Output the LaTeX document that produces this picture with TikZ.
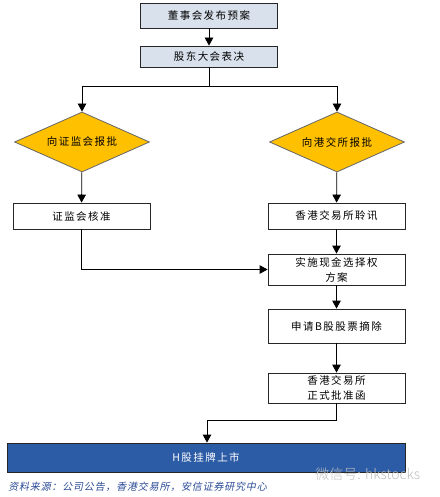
\documentclass[tikz,border=0pt]{standalone}
\usepackage{fontspec}
\usetikzlibrary{shapes,arrows.meta}
\newfontfamily\cjk[LetterSpace=14]{Noto Sans CJK SC}
\newfontfamily\cjkplain{Noto Sans CJK SC Light}
\newfontfamily\cjksrc[FakeSlant=0.2,LetterSpace=8]{Noto Sans CJK SC}
\definecolor{boxblue}{HTML}{D9E1EC}
\definecolor{stepgold}{HTML}{FFC000}
\definecolor{barblue}{HTML}{2D5CA6}
\definecolor{srcblue}{HTML}{2A4A96}
\tikzset{
	arr/.style={-{Triangle[length=8pt,width=8.5pt]}},
	procbox/.style={draw=black!85, rectangle, minimum width=137pt, align=center, inner sep=0pt, font=\cjk\fontsize{10.5}{15}\selectfont},
	decbox/.style={draw=black!60, diamond, fill=stepgold, shape aspect=2.25, minimum width=135pt, minimum height=60pt, inner sep=0pt, font=\cjk\fontsize{10.5}{15}\selectfont}
}
\begin{document}
\begin{tikzpicture}[x=1pt, y=-1pt, line width=0.8pt]
		\useasboundingbox (0,0) rectangle (439,497);
		\node[procbox, fill=boxblue, minimum height=25pt] (plan) at (209,15.5) {董事会发布预案};
		\node[procbox, fill=boxblue, minimum height=21pt] (vote) at (209,56.5) {股东大会表决};
		\coordinate (split) at (209,86);
		\node[decbox] (csrc) at (82,142) {向证监会报批};
		\node[decbox] (hkex) at (337,142) {向港交所报批};
		\node[procbox, minimum height=26pt] (approve) at (81.5,216) {证监会核准};
		\node[procbox, minimum height=26pt] (hearing) at (336.5,216) {香港交易所聆讯};
		\node[procbox, minimum height=31pt] (cash) at (336.5,269.5) {实施现金选择权\\方案};
		\node[procbox, minimum height=34pt] (delist) at (336.5,326) {申请B股股票摘除};
		\node[procbox, minimum height=30pt] (letter) at (336.5,388) {香港交易所\\正式批准函};
		\coordinate (bend) at (207,420);
		\node[draw=black!85, fill=barblue, minimum width=398pt, minimum height=29pt, inner sep=0pt, text=white, font=\cjk\fontsize{10.5}{15}\selectfont] (listing) at (206,457.5) {H股挂牌上市};
		\draw[arr] (plan) -- (vote);
		\draw (vote) -- (split);
		\draw[arr] (split) -| (csrc);
		\draw[arr] (split) -| (hkex);
		\draw[arr] (csrc) -- (approve);
		\draw[arr] (hkex) -- (hearing);
		\draw[arr] (approve) |- (cash.west);
		\draw[arr] (hearing) -- (cash);
		\draw[arr] (cash) -- (delist);
		\draw[arr] (delist) -- (letter);
		\draw[arr] (letter) |- (bend) -- (bend |- listing.north);
		\node[anchor=west, inner sep=0pt, text=black!25, font=\cjkplain\fontsize{14}{16}\selectfont] (mark) at (315,474) {微信号: hkstocks};
		\node[anchor=west, inner sep=0pt, text=srcblue, font=\cjksrc\fontsize{10}{12}\selectfont] (source) at (8,487) {资料来源：公司公告，香港交易所，安信证券研究中心};
	\end{tikzpicture}
\end{document}
